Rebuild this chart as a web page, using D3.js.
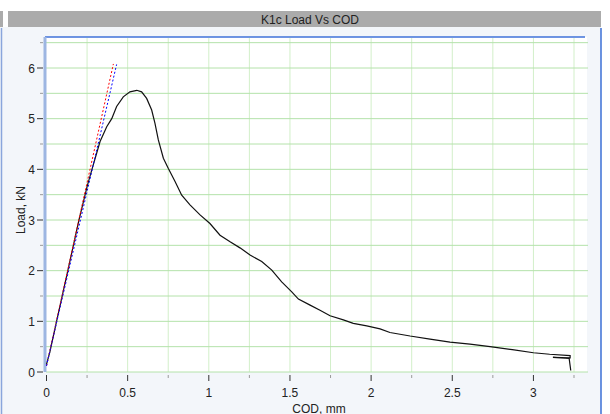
<!DOCTYPE html>
<html>
<head>
<meta charset="utf-8">
<script src="https://cdn.jsdelivr.net/npm/d3@7"></script>
<style>
  body { margin: 0; background: #fff; }
  svg { display: block; font-family: Arial, "Liberation Sans", sans-serif; }
</style>
</head>
<body>
<div id="chart"></div>
<script>
// measured curve: COD (mm) and load (kN)
var codValues = [0, 0.021, 0.062, 0.13, 0.2, 0.25, 0.28, 0.33, 0.371, 0.402, 0.432, 0.473, 0.514, 0.556,
  0.586, 0.617, 0.648, 0.668, 0.689, 0.72, 0.75, 0.792, 0.833, 0.884, 0.946, 1.007, 1.069, 1.131, 1.192,
  1.254, 1.326, 1.388, 1.449, 1.511, 1.552, 1.624, 1.685, 1.747, 1.829, 1.89, 1.973, 2.055, 2.116, 2.24,
  2.363, 2.486, 2.609, 2.733, 2.87, 3.0, 3.1, 3.226, 3.226, 3.12, 3.22, 3.23];
var loadValues = [0.15, 0.4, 1.0, 1.98, 3.0, 3.66, 4.0, 4.55, 4.84, 5.0, 5.24, 5.43, 5.53, 5.56,
  5.53, 5.4, 5.17, 4.91, 4.58, 4.22, 4.02, 3.76, 3.49, 3.3, 3.1, 2.93, 2.7, 2.57, 2.45,
  2.31, 2.18, 2.01, 1.78, 1.58, 1.44, 1.32, 1.22, 1.11, 1.03, 0.96, 0.91, 0.85, 0.78, 0.71,
  0.65, 0.59, 0.55, 0.5, 0.44, 0.38, 0.35, 0.325, 0.28, 0.29, 0.27, 0.03];

// fitted slope lines
var redLineCod = [0, 0.412];
var redLineLoad = [0.12, 6.08];
var blueLineCod = [0, 0.432];
var blueLineLoad = [0.12, 6.07];

var xTickLabels = [0, 0.5, 1, 1.5, 2, 2.5, 3];
var yTickLabels = [0, 1, 2, 3, 4, 5, 6];

var width = 610, height = 414;
var svg = d3.select("#chart").append("svg")
  .attr("width", width).attr("height", height);

// panel background
svg.append("rect").attr("x", 0).attr("y", 27).attr("width", 601).attr("height", height - 27)
  .attr("fill", "#f3f6fa");
svg.append("rect").attr("x", 0).attr("y", 11).attr("width", 3).attr("height", 16).attr("fill", "#ababab");
svg.append("rect").attr("x", 8).attr("y", 11).attr("width", 593).attr("height", 16).attr("fill", "#ababab");
svg.append("text").attr("x", 310).attr("y", 23.5).attr("text-anchor", "middle")
  .attr("font-size", 12).attr("fill", "#222").text("K1c Load Vs COD");
svg.append("line").attr("x1", 1.5).attr("x2", 1.5).attr("y1", 28).attr("y2", height)
  .attr("stroke", "#8aa6dc").attr("stroke-width", 1.5);
svg.append("line").attr("x1", 601).attr("x2", 601).attr("y1", 28).attr("y2", height)
  .attr("stroke", "#3b6fd6").attr("stroke-width", 1.5);

var x = d3.scaleLinear().domain([0, 3.33]).range([46.5, 587]);
var y = d3.scaleLinear().domain([0, 6.6]).range([372, 37.6]);

svg.append("rect").attr("x", 46).attr("y", 37).attr("width", 541).attr("height", 335).attr("fill", "#fff");

// grid
var vGrid = d3.range(0.25, 3.3, 0.25);
var hGrid = d3.range(0, 6.6, 0.5);
svg.append("g").selectAll("line").data(vGrid).enter().append("line")
  .attr("x1", d => x(d)).attr("x2", d => x(d)).attr("y1", 38).attr("y2", y(0))
  .attr("stroke", "#d2efc9").attr("stroke-width", 1);
svg.append("g").selectAll("line").data(hGrid).enter().append("line")
  .attr("x1", 46).attr("x2", 588).attr("y1", d => y(d)).attr("y2", d => y(d))
  .attr("stroke", "#b4e2aa").attr("stroke-width", 1);

// axes frame
svg.append("line").attr("x1", 45).attr("x2", 585).attr("y1", 37).attr("y2", 37)
  .attr("stroke", "#3f72d8").attr("stroke-width", 1.5);
svg.append("line").attr("x1", 45).attr("x2", 45).attr("y1", 37).attr("y2", 372)
  .attr("stroke", "#9db6e2").attr("stroke-width", 3);

// x axis
var xAxis = svg.append("g").attr("transform", "translate(0,374)");
xAxis.selectAll("line.minor").data(d3.range(0.25, 3.3, 0.5)).enter().append("line")
  .attr("x1", d => x(d)).attr("x2", d => x(d)).attr("y1", 1).attr("y2", 4)
  .attr("stroke", "#999");
xAxis.selectAll("line.major").data(xTickLabels).enter().append("line")
  .attr("x1", d => x(d)).attr("x2", d => x(d)).attr("y1", 1).attr("y2", 7)
  .attr("stroke", "#333");
xAxis.selectAll("text").data(xTickLabels).enter().append("text")
  .attr("x", d => x(d)).attr("y", 23).attr("text-anchor", "middle")
  .attr("font-size", 12).attr("fill", "#222").text(d => d);

// y axis
var yAxis = svg.append("g");
yAxis.selectAll("line.minor").data(d3.range(0.5, 6.6, 1)).enter().append("line")
  .attr("x1", 40).attr("x2", 43).attr("y1", d => y(d)).attr("y2", d => y(d))
  .attr("stroke", "#999");
yAxis.selectAll("line.major").data(yTickLabels).enter().append("line")
  .attr("x1", 37).attr("x2", 43).attr("y1", d => y(d)).attr("y2", d => y(d))
  .attr("stroke", "#333");
yAxis.selectAll("text").data(yTickLabels).enter().append("text")
  .attr("x", 35).attr("y", d => y(d) + 4.5).attr("text-anchor", "end")
  .attr("font-size", 12).attr("fill", "#222").text(d => d);

svg.append("text").attr("transform", "translate(25,210) rotate(-90)")
  .attr("text-anchor", "middle").attr("font-size", 12).attr("fill", "#222").text("Load, kN");
svg.append("text").attr("x", 319).attr("y", 413).attr("text-anchor", "middle")
  .attr("font-size", 12).attr("fill", "#222").text("COD, mm");

// data lines
var line = d3.line().x(d => x(d[0])).y(d => y(d[1]));
svg.append("path").datum(d3.zip(codValues, loadValues)).attr("d", line)
  .attr("fill", "none").attr("stroke", "#111").attr("stroke-width", 1.2);
svg.append("path").datum(d3.zip(redLineCod, redLineLoad)).attr("d", line)
  .attr("fill", "none").attr("stroke", "#ff0000").attr("stroke-width", 1).attr("stroke-dasharray", "2,2");
svg.append("path").datum(d3.zip(blueLineCod, blueLineLoad)).attr("d", line)
  .attr("fill", "none").attr("stroke", "#0000ff").attr("stroke-width", 1).attr("stroke-dasharray", "2,2");
</script>
</body>
</html>
